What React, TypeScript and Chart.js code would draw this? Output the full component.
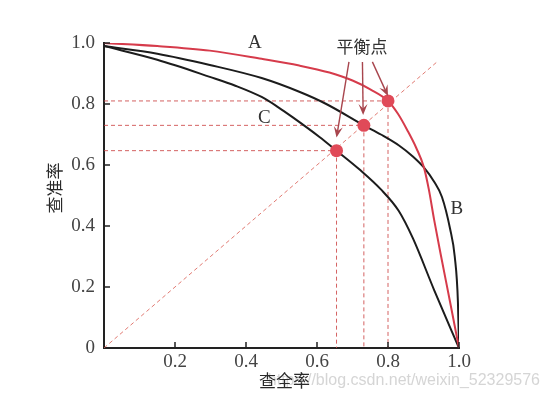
import React, { useEffect, useRef } from "react";
import { Chart, registerables } from "chart.js";

Chart.register(...registerables);

// Curve A (red)
const recallA = [0, 0.15, 0.298, 0.444, 0.55, 0.635, 0.7, 0.75, 0.8, 0.828, 0.854, 0.88, 0.901, 0.915, 0.93, 0.948, 0.975, 1.0];
const precisionA = [1.0, 0.99, 0.975, 0.948, 0.926, 0.903, 0.877, 0.848, 0.81, 0.768, 0.715, 0.655, 0.593, 0.52, 0.42, 0.31, 0.15, 0];
// Curve B (black, outer)
const recallB = [0, 0.15, 0.298, 0.444, 0.55, 0.626, 0.732, 0.78, 0.831, 0.87, 0.901, 0.93, 0.952, 0.975, 0.988, 0.997, 1.0];
const precisionB = [0.99, 0.965, 0.928, 0.885, 0.84, 0.8, 0.73, 0.7, 0.664, 0.628, 0.592, 0.545, 0.495, 0.39, 0.3, 0.15, 0];
// Curve C (black, inner)
const recallC = [0, 0.15, 0.298, 0.37, 0.444, 0.49, 0.531, 0.607, 0.655, 0.72, 0.78, 0.83, 0.87, 0.93, 1.0];
const precisionC = [0.99, 0.945, 0.889, 0.86, 0.823, 0.79, 0.757, 0.692, 0.647, 0.585, 0.52, 0.45, 0.36, 0.19, 0];

// Break-even points
const balanceRecall = [0.655, 0.732, 0.8];
const balancePrecision = [0.647, 0.73, 0.81];
const diagonalEnd = 0.94;

// Arrows from "平衡点" to the points
const arrowTailX = [0.69, 0.728, 0.756];
const arrowTailY = [0.938, 0.938, 0.938];
const arrowHeadX = [0.655, 0.73, 0.8];
const arrowHeadY = [0.69, 0.764, 0.826];

const xTickLabels = ["", "0.2", "0.4", "0.6", "0.8", "1.0"];
const yTickLabels = ["0", "0.2", "0.4", "0.6", "0.8", "1.0"];
const tickValues = [0.2, 0.4, 0.6, 0.8, 1.0];

const curveNames = ["A", "B", "C"];
const curveNameX = [0.425, 0.994, 0.452];
const curveNameY = [1.0, 0.456, 0.754];
const balanceLabel = "平衡点";
const balanceLabelX = 0.727;
const balanceLabelY = 0.987;

const xTitle = "查全率";
const yTitle = "查准率";
const watermark = "https://blog.csdn.net/weixin_52329576";

const zip = (xs: number[], ys: number[]) => xs.map((x, i) => ({ x, y: ys[i] }));

const RED = "#d63b4b";
const DASH = "rgba(205,70,70,0.85)";

export default function App() {
  const ref = useRef<HTMLCanvasElement | null>(null);

  useEffect(() => {
    document.body.style.margin = "0";
    const canvas = ref.current;
    if (!canvas) return;

    const dashed: any[] = [];
    balanceRecall.forEach((bx, i) => {
      const by = balancePrecision[i];
      dashed.push({
        data: [{ x: 0, y: by }, { x: bx, y: by }],
        borderColor: DASH, borderWidth: 1, borderDash: [4, 3], pointRadius: 0, tension: 0, order: 3,
      });
      dashed.push({
        data: [{ x: bx, y: by }, { x: bx, y: 0 }],
        borderColor: DASH, borderWidth: 1, borderDash: [4, 3], pointRadius: 0, tension: 0, order: 3,
      });
    });
    dashed.push({
      data: [{ x: 0, y: 0 }, { x: diagonalEnd, y: diagonalEnd }],
      borderColor: "rgba(220,100,90,0.85)", borderWidth: 1, borderDash: [4, 3], pointRadius: 0, tension: 0, order: 3,
    });

    const overlay = {
      id: "overlay",
      afterDraw(chart: any) {
        const { ctx, chartArea } = chart;
        const xs = chart.scales.x;
        const ys = chart.scales.y;
        ctx.save();
        // inward tick marks
        ctx.strokeStyle = "#222";
        ctx.lineWidth = 1.5;
        ctx.beginPath();
        tickValues.forEach((v) => {
          const px = xs.getPixelForValue(v);
          ctx.moveTo(px, chartArea.bottom);
          ctx.lineTo(px, chartArea.bottom - 6);
          const py = ys.getPixelForValue(v);
          ctx.moveTo(chartArea.left, py);
          ctx.lineTo(chartArea.left + 6, py);
        });
        ctx.stroke();

        // arrows
        ctx.strokeStyle = "#a8454d";
        ctx.fillStyle = "#a8454d";
        ctx.lineWidth = 1.4;
        arrowTailX.forEach((tx, i) => {
          const x0 = xs.getPixelForValue(tx);
          const y0 = ys.getPixelForValue(arrowTailY[i]);
          const x1 = xs.getPixelForValue(arrowHeadX[i]);
          const y1 = ys.getPixelForValue(arrowHeadY[i]);
          const ang = Math.atan2(y1 - y0, x1 - x0);
          const L = 11, W = 4.5;
          ctx.beginPath();
          ctx.moveTo(x0, y0);
          ctx.lineTo(x1 - Math.cos(ang) * 6, y1 - Math.sin(ang) * 6);
          ctx.stroke();
          const bx = x1 - Math.cos(ang) * L;
          const by = y1 - Math.sin(ang) * L;
          const nx = -Math.sin(ang), ny = Math.cos(ang);
          const mx = x1 - Math.cos(ang) * (L * 0.6);
          const my = y1 - Math.sin(ang) * (L * 0.6);
          ctx.beginPath();
          ctx.moveTo(x1, y1);
          ctx.lineTo(bx + nx * W, by + ny * W);
          ctx.lineTo(mx, my);
          ctx.lineTo(bx - nx * W, by - ny * W);
          ctx.closePath();
          ctx.fill();
        });

        // curve names
        ctx.fillStyle = "#333";
        ctx.textAlign = "center";
        ctx.textBaseline = "middle";
        ctx.font = '19px "Liberation Serif", serif';
        curveNames.forEach((n, i) => {
          ctx.fillText(n, xs.getPixelForValue(curveNameX[i]), ys.getPixelForValue(curveNameY[i]));
        });
        ctx.font = '17px "Noto Sans CJK SC", sans-serif';
        ctx.fillText(balanceLabel, xs.getPixelForValue(balanceLabelX), ys.getPixelForValue(balanceLabelY));

        // watermark
        ctx.font = '16px "Liberation Sans", Arial, sans-serif';
        ctx.fillStyle = "rgba(195,195,195,0.7)";
        ctx.textAlign = "right";
        ctx.fillText(watermark, 540, 381);

        // axis titles
        ctx.fillStyle = "#2a2a2a";
        ctx.textAlign = "center";
        ctx.font = '17px "Noto Sans CJK SC", sans-serif';
        ctx.fillText(xTitle, (chartArea.left + chartArea.right) / 2 + 3, 381);
        ctx.save();
        ctx.translate(55, 188);
        ctx.rotate(-Math.PI / 2);
        ctx.fillText(yTitle, 0, 0);
        ctx.restore();
        ctx.restore();
      },
    };

    const curve = { pointRadius: 0, borderWidth: 2, cubicInterpolationMode: "monotone" as const };

    const chart = new Chart(canvas, {
      type: "line",
      data: {
        datasets: [
          {
            data: zip(balanceRecall, balancePrecision),
            showLine: false,
            pointRadius: 6.5,
            pointBackgroundColor: "#e04a58",
            pointBorderColor: "#e04a58",
            pointBorderWidth: 0,
            order: 0,
          },
          { ...curve, data: zip(recallA, precisionA), borderColor: RED, order: 1 },
          { ...curve, data: zip(recallB, precisionB), borderColor: "#1c1c1c", order: 2 },
          { ...curve, data: zip(recallC, precisionC), borderColor: "#1c1c1c", order: 2 },
          ...dashed,
        ],
      },
      options: {
        responsive: false,
        maintainAspectRatio: false,
        animation: false,
        layout: { padding: { left: 0, top: 43, right: 91, bottom: 0 } },
        plugins: { legend: { display: false }, tooltip: { enabled: false } },
        scales: {
          x: {
            type: "linear",
            min: 0,
            max: 1,
            afterFit: (s: any) => { s.height = 50; },
            grid: { display: false, drawTicks: false },
            border: { display: true, color: "#222", width: 2 },
            ticks: {
              stepSize: 0.2,
              autoSkip: false,
              maxRotation: 0,
              padding: 3,
              color: "#444",
              font: { family: '"Liberation Serif", serif', size: 19 },
              callback: (_v: any, i: number) => xTickLabels[i],
            },
          },
          y: {
            type: "linear",
            min: 0,
            max: 1,
            afterFit: (s: any) => { s.width = 104; },
            grid: { display: false, drawTicks: false },
            border: { display: true, color: "#222", width: 2 },
            ticks: {
              stepSize: 0.2,
              autoSkip: false,
              padding: 9,
              color: "#444",
              font: { family: '"Liberation Serif", serif', size: 19 },
              callback: (_v: any, i: number) => yTickLabels[i],
            },
          },
        },
      },
      plugins: [overlay],
    });
    return () => chart.destroy();
  }, []);

  return (
    <div style={{ width: 550, height: 398, background: "#fff" }}>
      <canvas ref={ref} width={550} height={398} />
    </div>
  );
}
